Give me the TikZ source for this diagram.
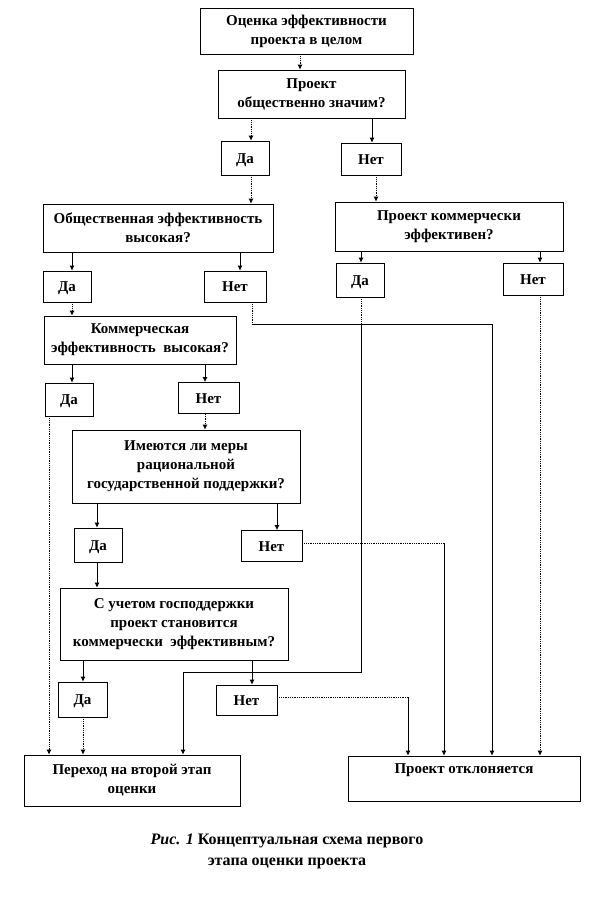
\documentclass[tikz,border=0pt]{standalone}
\usepackage{fontspec}
\setmainfont{Liberation Serif}
\usetikzlibrary{arrows.meta}
\begin{document}
\begin{tikzpicture}[x=1pt,y=-1pt,
  box/.style={draw, line width=0.8pt, align=center, inner sep=0pt, fill=white,
    font=\fontsize{15}{19}\selectfont\bfseries},
  yn/.style={box, text height=10pt, text depth=0pt},
  arr/.style={-{Latex[length=5pt,width=5pt]}, line width=0.8pt},
  ln/.style={line width=0.8pt},
  dot/.style={densely dotted}
]
\useasboundingbox[fill=white] (0,0) rectangle (591,900);
% boxes
\node[box, minimum width=213pt, minimum height=46pt] (n1) at (306.5,31) {Оценка эффективности\\проекта в целом};
\node[box, minimum width=187pt, minimum height=48pt] (n2) at (311.5,94) {Проект\\общественно значим?};
\node[yn, minimum width=48pt, minimum height=34pt] (d1) at (245,158) {Да};
\node[yn, minimum width=60pt, minimum height=32pt] (t1) at (371,159) {Нет};
\node[box, minimum width=230pt, minimum height=48pt] (n5) at (158,228) {Общественная эффективность\\высокая?};
\node[box, minimum width=228pt, minimum height=49pt] (n6) at (449,226.5) {Проект коммерчески\\эффективен?};
\node[yn, minimum width=48pt, minimum height=31pt] (d2) at (67,286.5) {Да};
\node[yn, minimum width=62pt, minimum height=31pt] (t2) at (235,286.5) {Нет};
\node[yn, minimum width=48pt, minimum height=34pt] (d3) at (360,280) {Да};
\node[yn, minimum width=60pt, minimum height=32pt] (t3) at (533,279) {Нет};
\node[box, minimum width=192pt, minimum height=48pt] (n11) at (140,340) {Коммерческая\\эффективность\ \ высокая?};
\node[yn, minimum width=48pt, minimum height=33pt] (d4) at (69,399.5) {Да};
\node[yn, minimum width=61pt, minimum height=31pt] (t4) at (208.5,398) {Нет};
\node[box, minimum width=228pt, minimum height=73pt] (n14) at (186,466.5) {Имеются ли меры\\рациональной\\государственной поддержки?};
\node[yn, minimum width=48pt, minimum height=34pt] (d5) at (98,545) {Да};
\node[yn, minimum width=61pt, minimum height=31pt] (t5) at (271.5,546) {Нет};
\node[box, minimum width=228pt, minimum height=72pt] (n17) at (174,624) {С учетом господдержки\\проект становится\\коммерчески\ \ эффективным?};
\node[yn, minimum width=49pt, minimum height=35pt] (d6) at (82.5,699.5) {Да};
\node[yn, minimum width=61pt, minimum height=30pt] (t6) at (246.5,700) {Нет};
\node[box, minimum width=216pt, minimum height=51pt] (n20) at (132,780.5) {Переход\ на второй этап\\оценки};
\node[box, minimum width=232pt, minimum height=45pt] (n21) at (464,778.5) {Проект отклоняется\\\mbox{}};
% caption
\node[font=\fontsize{16}{21}\selectfont\bfseries, align=center] (cap) at (287,851) {\textit{Рис. 1} Концептуальная схема первого\\этапа оценки проекта};
% x positions of connectors
\coordinate (x300) at (300,0);
\coordinate (x251) at (251,0);
\coordinate (x372) at (372,0);
\coordinate (x376) at (376,0);
\coordinate (x72) at (72,0);
\coordinate (x240) at (240,0);
\coordinate (x361) at (361,0);
\coordinate (x540) at (540,0);
\coordinate (x205) at (205,0);
\coordinate (x49) at (49,0);
\coordinate (x97) at (97,0);
\coordinate (x277) at (277,0);
\coordinate (x83) at (83,0);
\coordinate (x252) at (252,0);
% corners
\coordinate (k1) at (252,324);
\coordinate (k2) at (492,324);
\coordinate (k5) at (361,324);
\coordinate (k3) at (361,672);
\coordinate (k4) at (183,672);
\coordinate (k6) at (444,543);
\coordinate (k7) at (408,697);
% connectors
\draw[arr,dot] (n1.south -| x300) -- (n2.north -| x300);
\draw[arr,dot] (n2.south -| x251) -- (d1.north -| x251);
\draw[arr] (n2.south -| x372) -- (t1.north -| x372);
\draw[arr,dot] (d1.south -| x251) -- (n5.north -| x251);
\draw[arr,dot] (t1.south -| x376) -- (n6.north -| x376);
\draw[arr] (n5.south -| x72) -- (d2.north -| x72);
\draw[arr] (n5.south -| x240) -- (t2.north -| x240);
\draw[arr] (n6.south -| x361) -- (d3.north -| x361);
\draw[arr] (n6.south -| x540) -- (t3.north -| x540);
\draw[arr,dot] (d2.south -| x72) -- (n11.north -| x72);
\draw[ln,dot] (t2.south -| x252) -- (k1);
\draw[arr] (k1) -- (k2) -- (n21.north -| k2);
\draw[ln,dot] (d3.south -| x361) -- (k5);
\draw[arr] (k5) -- (k3) -- (k4) -- (n20.north -| k4);
\draw[arr,dot] (t3.south -| x540) -- (n21.north -| x540);
\draw[arr] (n11.south -| x72) -- (d4.north -| x72);
\draw[arr] (n11.south -| x205) -- (t4.north -| x205);
\draw[arr,dot] (d4.south -| x49) -- (n20.north -| x49);
\draw[arr,dot] (t4.south -| x205) -- (n14.north -| x205);
\draw[arr] (n14.south -| x97) -- (d5.north -| x97);
\draw[arr] (n14.south -| x277) -- (t5.north -| x277);
\draw[ln,dot] (t5.east |- k6) -- (k6);
\draw[arr] (k6) -- (n21.north -| k6);
\draw[arr] (d5.south -| x97) -- (n17.north -| x97);
\draw[arr] (n17.south -| x83) -- (d6.north -| x83);
\draw[arr] (n17.south -| x252) -- (t6.north -| x252);
\draw[arr,dot] (d6.south -| x83) -- (n20.north -| x83);
\draw[ln,dot] (t6.east |- k7) -- (k7);
\draw[arr] (k7) -- (n21.north -| k7);
\end{tikzpicture}
\end{document}
